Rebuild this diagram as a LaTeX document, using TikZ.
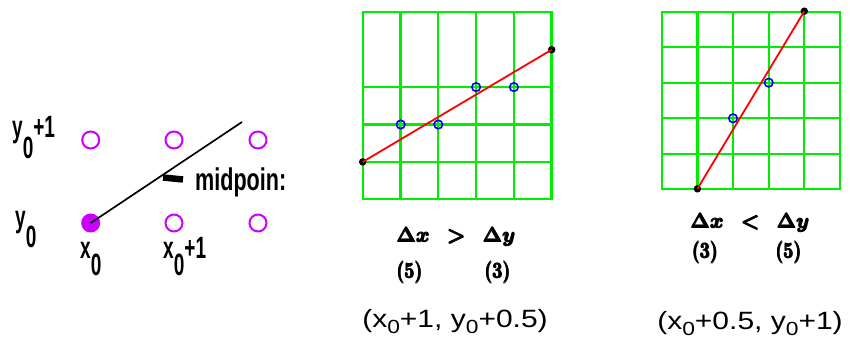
\documentclass[tikz,border=0pt]{standalone}
\usepackage{fontspec}
\newfontfamily\arial{Liberation Sans}
\usepackage{graphicx}
\definecolor{gridgreen}{RGB}{0,238,0}
\definecolor{pur}{RGB}{204,0,255}
\definecolor{bl}{RGB}{0,0,255}
\definecolor{rd}{RGB}{255,0,0}
\newcommand{\subz}{\raisebox{-0.25em}{\fontsize{19}{19}\selectfont 0}}
\newcommand{\pixsub}[1]{\raisebox{#1}{0}}
\newcommand{\fat}[1]{\leavevmode\rlap{#1}\rlap{\raisebox{0.7pt}{#1}}\rlap{\kern0.5pt\raisebox{0.35pt}{#1}}\kern1pt\hbox{#1}}
\newcommand{\dxgt}{\fat{\hbox{\boldmath$\Delta x\mskip 8mu\mathrel{>}\mskip 8mu\Delta y$}}}
\newcommand{\dxlt}{\fat{\hbox{\boldmath$\Delta x\mskip 8mu\mathrel{<}\mskip 8mu\Delta y$}}}
\newcommand{\bnum}[1]{\fat{\hbox{\scalebox{0.82}[1]{\bfseries (#1)}}}}
\begin{document}
\begin{tikzpicture}[x=1pt,y=-1pt,
  pcirc/.style={circle,draw=pur,line width=2pt,minimum size=17pt,inner sep=0pt},
  bdot/.style={circle,fill=black,minimum size=7.5pt,inner sep=0pt},
  bcirc/.style={circle,draw=bl,line width=1.6pt,minimum size=8.5pt,inner sep=0pt},
  gridline/.style={draw=gridgreen,line width=2.2pt},
  thickgrid/.style={draw=gridgreen,line width=3pt},
  redline/.style={draw=rd,line width=1.8pt},
  pix/.style={font=\arial\bfseries\fontsize{28}{28}\selectfont,inner sep=0pt,anchor=base west},
  mathlbl/.style={font=\fontsize{22}{22}\selectfont,inner sep=0pt,anchor=base},
  coordlbl/.style={font=\arial\fontsize{25}{25}\selectfont,inner sep=0pt,anchor=base}]
\useasboundingbox (0,0) rectangle (850,358);

% ---------- left panel ----------
\node[pcirc,fill=pur] (p00) at (90.7,223) {};
\node[pcirc] (p10) at (174,223) {};
\node[pcirc] (p20) at (258,223) {};
\node[pcirc] (p01) at (90.7,140) {};
\node[pcirc] (p11) at (174,140) {};
\node[pcirc] (p21) at (258,140) {};
\coordinate (lend) at (242,122);
\draw[line width=1.7pt] (p00.center) -- (lend);

\node[pix] (mid) at (195,190) {\scalebox{0.77}[1.12]{midpoin:}};
\coordinate (mpa) at (163,177.5);
\coordinate (mpb) at (183,179.5);
\draw[line width=6.5pt] (mpb) -- (mpa);

\node[pix] (ly1) at (12,138) {\scalebox{0.68}[1.1]{y\pixsub{-0.68em}+1}};
\node[pix] (ly0) at (15,227) {\scalebox{0.68}[1.1]{y\pixsub{-0.66em}}};
\node[pix] (lx0) at (80,258) {\scalebox{0.68}[1.1]{x\pixsub{-0.58em}}};
\node[pix] (lx1) at (163,258) {\scalebox{0.68}[1.1]{x\pixsub{-0.58em}+1}};

% ---------- middle grid ----------
\draw[gridline] (362.7,12.3) rectangle (551.7,199.3);
\foreach \x in {438.3,476.1,513.9} \draw[gridline] (\x,12.3) -- (\x,199.3);
\draw[thickgrid] (400.7,12.3) -- (400.7,199.3);
\draw[thickgrid] (551.7,12.3) -- (551.7,199.3);
\foreach \y in {87.1,124.5,161.9} \draw[gridline] (362.7,\y) -- (551.7,\y);
\node[bdot] (a1) at (362.7,161.9) {};
\node[bdot] (b1) at (551.7,49.7) {};
\draw[redline] (a1.center) -- (b1.center);
\node[bcirc] (m1) at (400.7,124.5) {};
\node[bcirc] (m2) at (438.3,124.5) {};
\node[bcirc] (m3) at (476.1,87.1) {};
\node[bcirc] (m4) at (513.9,87.1) {};

% ---------- right grid ----------
\draw[gridline] (661.7,11.7) rectangle (840,189.3);
\foreach \x in {697.4,733.0,768.7,804.3} \draw[gridline] (\x,11.7) -- (\x,189.3);
\foreach \y in {47.2,82.7,118.3,153.8} \draw[gridline] (661.7,\y) -- (840,\y);
\node[bdot] (a2) at (697.4,188.8) {};
\node[bdot] (b2) at (804.3,11.2) {};
\draw[redline] (a2.center) -- (b2.center);
\node[bcirc] (r1) at (733.0,118.3) {};
\node[bcirc] (r2) at (768.7,82.7) {};

% ---------- labels ----------
\node[mathlbl] (dx1) at (456,242) {\dxgt};
\node[mathlbl] (n5a) at (409.5,278) {\bnum{5}};
\node[mathlbl] (n3a) at (497.5,278) {\bnum{3}};

\node[mathlbl] (dx2) at (750,228) {\dxlt};
\node[mathlbl] (n3b) at (705,258) {\bnum{3}};
\node[mathlbl] (n5b) at (788.5,258) {\bnum{5}};

\node[coordlbl] (c1) at (455,327) {\scalebox{1.2}[1]{(x\subz+1, y\subz+0.5)}};
\node[coordlbl] (c2) at (750,329) {\scalebox{1.2}[1]{(x\subz+0.5, y\subz+1)}};
\end{tikzpicture}
\end{document}
